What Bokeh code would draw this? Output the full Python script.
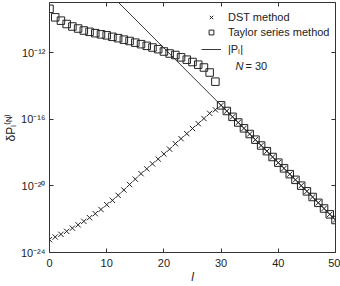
from bokeh.plotting import figure
from bokeh.models import (Range1d, LogAxis, LinearAxis, FixedTicker, Legend, LegendItem,
                          Label, CustomJSTickFormatter)
from bokeh.embed import file_html
from bokeh.resources import INLINE

# ---- data ----
l_vals = list(range(0, 51))
# log10 of DST-method error, l = 0..50
dst_exp = [-23.23, -23.07, -22.91, -22.73, -22.54, -22.34, -22.13, -21.91, -21.67, -21.42,
           -21.13, -20.87, -20.57, -20.25, -19.92, -19.60, -19.27, -18.98, -18.68, -18.39,
           -18.09, -17.80, -17.47, -17.17, -16.87, -16.56, -16.27, -15.96, -15.65, -15.44,
           -15.17, -15.51, -15.86, -16.20, -16.55, -16.89, -17.23, -17.58, -17.92, -18.27,
           -18.61, -18.95, -19.30, -19.64, -19.99, -20.33, -20.67, -21.02, -21.36, -21.71,
           -22.05]
# log10 of Taylor-series error, l = 0..50
taylor_exp = [-9.38, -9.89, -10.09, -10.29, -10.44, -10.56, -10.68, -10.76, -10.84, -10.91,
              -10.97, -11.06, -11.14, -11.23, -11.31, -11.41, -11.50, -11.60, -11.70, -11.80,
              -11.94, -12.06, -12.15, -12.29, -12.43, -12.57, -12.73, -12.90, -13.20, -13.75,
              -15.17, -15.51, -15.86, -16.20, -16.55, -16.89, -17.23, -17.58, -17.92, -18.27,
              -18.61, -18.95, -19.30, -19.64, -19.99, -20.33, -20.67, -21.02, -21.36, -21.71,
              -22.05]
# |P_l| line
line_l = [10, 50]
line_exp = [-8.29, -22.05]

x_ticks = [0, 10, 20, 30, 40, 50]
y_ticks = [1e-24, 1e-20, 1e-16, 1e-12]
y_tick_labels = ["10\u207b\u00b2\u2074", "10\u207b\u00b2\u2070", "10\u207b\u00b9\u2076",
                 "10\u207b\u00b9\u00b2"]

dst = [10 ** e for e in dst_exp]
taylor = [10 ** e for e in taylor_exp]
line_p = [10 ** e for e in line_exp]

FONT = "Liberation Sans"
TXT = "#222222"
TICK = "#333333"

p = figure(width=340, height=286, x_range=Range1d(0, 50), y_range=Range1d(1e-24, 1e-9),
           y_axis_type="log", output_backend="svg", toolbar_location=None,
           min_border_left=0, min_border_right=5, min_border_top=2, min_border_bottom=0)
p.background_fill_color = "white"
p.border_fill_color = "white"
p.outline_line_color = TICK
p.outline_line_width = 1
p.xgrid.visible = False
p.ygrid.visible = False

for ax in (p.xaxis[0], p.yaxis[0]):
    ax.major_tick_in = 4
    ax.major_tick_out = 0
    ax.minor_tick_line_color = None
    ax.axis_line_color = None
    ax.major_tick_line_color = TICK
    ax.major_label_text_font = FONT
    ax.major_label_text_font_size = "11px"
    ax.major_label_text_color = TXT
    ax.axis_label_text_font = FONT
    ax.axis_label_text_color = TXT

p.xaxis[0].ticker = FixedTicker(ticks=x_ticks)
p.yaxis[0].ticker = FixedTicker(ticks=y_ticks)
p.yaxis[0].major_label_overrides = {t: s for t, s in zip(y_ticks, y_tick_labels)}
p.xaxis[0].axis_label = "l"
p.xaxis[0].axis_label_text_font_style = "italic"
p.xaxis[0].axis_label_text_font_size = "12px"
p.xaxis[0].axis_label_standoff = 0
p.xaxis[0].major_label_standoff = 6
p.yaxis[0].axis_label = "\u03b4P\u2097\u207d\u1d3a\u207e"
p.yaxis[0].axis_label_text_font_style = "normal"
p.yaxis[0].axis_label_text_font_size = "12px"
p.yaxis[0].axis_label_standoff = 0
p.yaxis[0].major_label_standoff = 4

blank = CustomJSTickFormatter(code="return ''")
top = LinearAxis(ticker=FixedTicker(ticks=x_ticks), formatter=blank,
                 axis_line_color=None, major_tick_in=4, major_tick_out=0,
                 minor_tick_line_color=None, major_label_standoff=0,
                 major_tick_line_color=TICK)
right = LogAxis(ticker=FixedTicker(ticks=y_ticks), formatter=blank,
                axis_line_color=None, major_tick_in=4, major_tick_out=0,
                minor_tick_line_color=None, major_label_standoff=0,
                major_tick_line_color=TICK)
p.add_layout(top, "above")
p.add_layout(right, "right")

r_line = p.line(line_l, line_p, line_color="#222222", line_width=0.9)
r_sq = p.scatter(l_vals, taylor, marker="square", size=7.5, fill_color=None,
                 line_color="#222222", line_width=1)
r_x = p.scatter(l_vals, dst, marker="x", size=7.5, line_color="#222222", line_width=1)

legend = Legend(items=[LegendItem(label="DST method", renderers=[r_x]),
                       LegendItem(label="Taylor series method", renderers=[r_sq]),
                       LegendItem(label="|P\u2097|", renderers=[r_line])],
                location=(152, 196), background_fill_alpha=0, border_line_color=None,
                label_text_font=FONT, label_text_font_size="11px", label_text_color=TXT,
                glyph_width=20, glyph_height=12, label_standoff=7, spacing=3,
                padding=4, margin=0, label_height=12)
p.add_layout(legend)

p.add_layout(Label(x=186, y=181, x_units="screen", y_units="screen", text="N",
                   text_font=FONT, text_font_size="11px", text_font_style="italic",
                   text_color=TXT))
p.add_layout(Label(x=196, y=181, x_units="screen", y_units="screen", text="= 30",
                   text_font=FONT, text_font_size="11px", text_color=TXT))

open("out.html", "w").write(file_html(p, INLINE))
